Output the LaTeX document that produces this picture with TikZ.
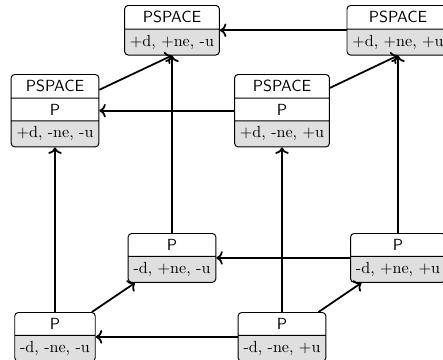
\documentclass[tikz,border=0pt]{standalone}
\usetikzlibrary{shapes.multipart,arrows.meta}
\begin{document}
\begin{tikzpicture}[x=0.6211pt,y=-0.6211pt,
  boxbase/.style={rectangle split, draw, line width=0.6pt, rounded corners=2.2pt,
    inner sep=3.33pt, anchor=north, font=\normalsize},
  boxtwo/.style={boxbase, rectangle split parts=2, rectangle split part fill={white,gray!25}},
  boxthree/.style={boxbase, rectangle split parts=3, rectangle split part fill={white,white,gray!25}},
  arr/.style={->, line width=1.1pt}]
\useasboundingbox (0,0) rectangle (443,360);
% top row (back)
\node[boxtwo] (A) at (172,5) {\textsf{PSPACE}\nodepart{two}+d, +ne, -u};
\node[boxtwo] (B) at (398,5) {\textsf{PSPACE}\nodepart{two}+d, +ne, +u};
% second row (front)
\node[boxthree] (C) at (55,74) {\textsf{PSPACE}\nodepart{two}\textsf{P}\nodepart{three}+d, -ne, -u};
\node[boxthree] (D) at (282,74) {\textsf{PSPACE}\nodepart{two}\textsf{P}\nodepart{three}+d, -ne, +u};
% third row (back)
\node[boxtwo] (E) at (172,233) {\textsf{P}\nodepart{two}-d, +ne, -u};
\node[boxtwo] (F) at (398,233) {\textsf{P}\nodepart{two}-d, +ne, +u};
% bottom row (front)
\node[boxtwo] (G) at (55,312) {\textsf{P}\nodepart{two}-d, -ne, -u};
\node[boxtwo] (H) at (282,312) {\textsf{P}\nodepart{two}-d, -ne, +u};
% horizontal arrows
\draw[arr] (B) -- (A);
\draw[arr] (D) -- (C);
\draw[arr] (F) -- (E);
\draw[arr] (H) -- (G);
% vertical arrows
\draw[arr] (G) -- (C);
\draw[arr] (H) -- (D);
\draw[arr] (E) -- (A);
\draw[arr] (F) -- (B);
% diagonal arrows
\draw[arr] (G) -- (E);
\draw[arr] (H) -- (F);
\draw[arr] (C) -- (A.south);
\draw[arr] (D) -- (B.south);
\end{tikzpicture}
\end{document}
